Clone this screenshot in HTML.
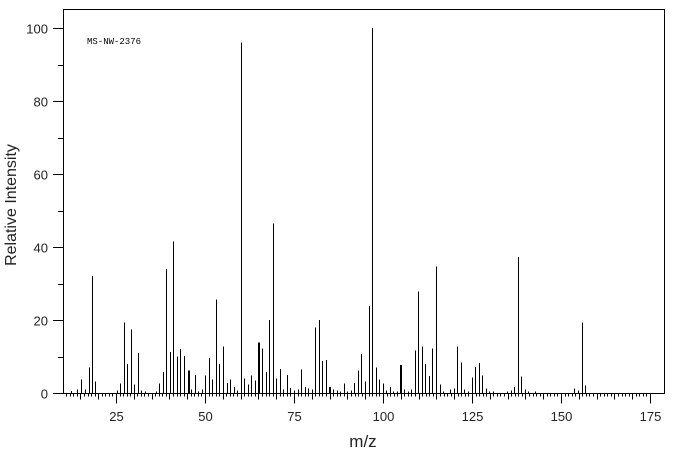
<!DOCTYPE html>
<html><head><style>body{margin:0;background:#fff}svg{display:block}text{font-family:"Liberation Sans",sans-serif}</style></head>
<body>
<svg id="s" width="676" height="455" xmlns="http://www.w3.org/2000/svg">
<rect x="63.5" y="9.5" width="601" height="384" fill="none" stroke="#000" stroke-width="1"/>
<text x="87" y="44" font-size="9" style="font-family:'Liberation Mono',monospace">MS-NW-2376</text>
<text x="363" y="447" font-size="17" text-anchor="middle" fill="#222">m/z</text>
<text transform="translate(16,205) rotate(-90)" font-size="16" text-anchor="middle" fill="#222">Relative Intensity</text>
<g id="g" stroke="#000" stroke-width="1" shape-rendering="crispEdges"></g>
<g id="t" font-size="13" fill="#222"></g>
</svg>
<script>
var g=document.getElementById('g'),t=document.getElementById('t'),ns='http://www.w3.org/2000/svg';
function L(x1,y1,x2,y2,w){var l=document.createElementNS(ns,'line');l.setAttribute('x1',x1);l.setAttribute('y1',y1);l.setAttribute('x2',x2);l.setAttribute('y2',y2);if(w)l.setAttribute('stroke-width',w);g.appendChild(l);}
function T(x,y,s,a){var e=document.createElementNS(ns,'text');e.setAttribute('x',x);e.setAttribute('y',y);e.setAttribute('text-anchor',a);e.textContent=s;t.appendChild(e);}
var B=393;
for(var v=0;v<=100;v+=10){var y=Math.round(B-v*3.65)+0.5;L(v%20==0?53:58,y,63,y);if(v%20==0)T(48,y+5,String(v),'end');}
for(var m=11;m<=175;m++){var x=Math.round(116+(m-25)*3.56)+0.5;var len=m%25==0?10:(m%5==0?6:3);L(x,B+0.5,x,B+0.5+len);if(m%25==0)T(x,B+28,String(m),'middle');}
var p=[];
function add(off,arr){for(var i=0;i<arr.length;i+=2)p.push([off+arr[i]/3,arr[i+1]]);}
add(50,[62,0.5,82,0.9,94,3.7,106,0.9,116,7,127,32,136,3.1,200,0.7,211,2.6,223,19.3,232,8,244,17.4,253,2.3,265,11,274,0.7,284,0.4,319,0.4,328,2.6,340,5.8,349,34,361,11.3,370,41.5,382,10,391,12,403,10.2,413,6.1,416,6.1,424,0.9,436,5,445,0.4,457,0.9,466,4.8,478,9.6,487,3.7,499,25.6,508,8,520,12.7,532,2.8,541,3.7,553,1.7,562,0.7,574,96,583,4,595,2.3,604,4.8,616,3.4,625,13.8,628,13.8,637,12.2,649,5.8,658,20]);
add(260,[40,46.5,49,4,61,6.6,70,0.9,82,5,91,1.4,103,0.7,115,0.9,124,6.4,136,1.7,145,1.2,157,0.9,166,17.9,178,20,187,8.8,199,9.1,208,1.7,211,1.7,220,0.9,232,0.7,241,0.4,253,2.6,262,0.4,274,0.7,283,2.8,295,6.1,304,10.7,316,3.1,328,23.9,337,100,349,7,358,3.7,370,2.6,379,0.7,391,1.7,400,0.4,412,0.4,421,7.7,424,7.7,433,0.9,445,0.4,454,0.9,466,11.7,475,27.8,487,12.7,496,8,508,4.6,517,12.2,529,34.6,541,2.3,550,0.4,571,0.9,583,1.2,592,12.7,604,8.4,613,0.9,625,0.4,637,4.2,646,7.1,658,8.2]);
add(470,[37,4.8,49,1.2,58,0.4,70,0.4,112,0.4,124,0.7,133,1.7,145,37.3,154,4.5,166,0.9,175,0.4,196,0.4,313,1.2,325,0.7,337,19.3,346,2]);
p.forEach(function(q){var x=Math.round(q[0])+0.5;L(x,B,x,B-q[1]*3.65);});
</script>
</body></html>
